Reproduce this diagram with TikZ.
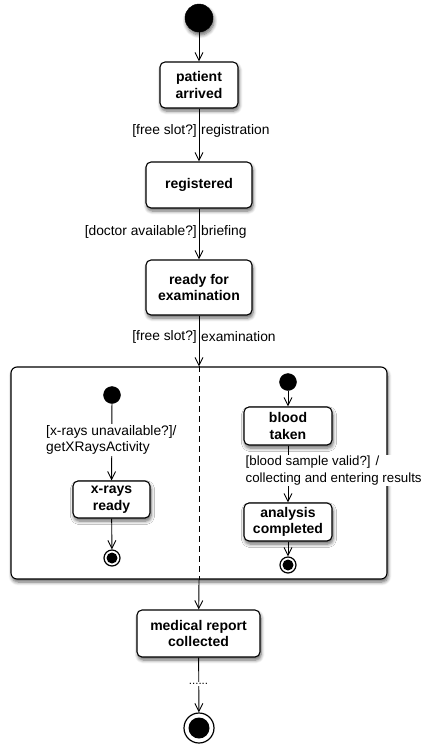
\documentclass[tikz,border=0pt]{standalone}
\usepackage{fontspec}
\setmainfont{Liberation Sans}
\usetikzlibrary{arrows.meta,shadows.blur}
\begin{document}
\begin{tikzpicture}[x=1pt,y=-1pt,
  shad/.style={blur shadow={shadow xshift=1pt, shadow yshift=-3pt, shadow blur radius=3.5pt, shadow blur steps=6, shadow opacity=60}},
  state/.style={draw, line width=1.1pt, rounded corners=5pt, fill=white, shad,
    font=\fontsize{14}{16.5}\selectfont\bfseries, align=center, inner sep=0pt},
  comp/.style={draw, line width=1.1pt, rounded corners=6pt, fill=white, shad, inner sep=0pt},
  init/.style={circle, fill=black, draw=black, inner sep=0pt},
  fin/.style={circle, draw=black, line width=1.2pt, fill=white, inner sep=0pt},
  lbl/.style={font=\fontsize{13.8}{16.5}\selectfont, inner sep=1pt},
  flow/.style={line width=0.9pt, -{Straight Barb[length=8pt,width=8pt,line width=0.9pt]}},
  plain/.style={line width=0.9pt}
]
\useasboundingbox (0,0) rectangle (425,748);

% main column
\node[init, shad, minimum size=28pt] (start) at (199,18) {};
\node[state, minimum width=78pt, minimum height=46pt] (pa) at (199,85) {patient\\arrived};
\node[state, minimum width=106pt, minimum height=46pt] (reg) at (199,185) {registered};
\node[state, minimum width=106pt, minimum height=55pt] (ready) at (199,287.5) {ready for\\examination};
\node[comp, minimum width=376pt, minimum height=212pt] (cmp) at (199,473) {};
\node[state, minimum width=123pt, minimum height=47pt] (mr) at (198.5,633.5) {medical report\\collected};
\node[fin, minimum size=30pt, path picture={\fill[black] (path picture bounding box.center) circle (10.5pt);}] (fend) at (199,728) {};

\draw[flow] (start) -- (pa);
\draw[flow] (pa) -- (reg);
\draw[flow] (reg) -- (ready);
\draw[flow] (ready) -- (cmp.north);
\draw[plain, dash pattern=on 6pt off 4pt] (cmp.north) -- (cmp.south);
\draw[flow] (cmp.south) -- (mr);
\draw[flow] (mr) -- (fend);

\node[lbl, anchor=east] (l1a) at (198,131) {[free slot?]};
\node[lbl, anchor=west] (l1b) at (200,131) {registration};
\node[lbl, anchor=east] (l2a) at (198,232) {[doctor available?]};
\node[lbl, anchor=west] (l2b) at (200,232) {briefing};
\node[lbl, anchor=east] (l3a) at (198,337) {[free slot?]};
\node[lbl, anchor=west] (l3b) at (200,337) {examination};
\node[fill=white, inner sep=1pt, font=\fontsize{11.5}{12}\selectfont] (dots) at (198.5,684) {......};

% left region
\node[init, minimum size=17pt] (lstart) at (112,395) {};
\node[state, minimum width=77pt, minimum height=37pt] (xr) at (111.5,499.5) {x-rays\\ready};
\node[fin, minimum size=16pt, path picture={\fill[black] (path picture bounding box.center) circle (5.5pt);}] (lend) at (112,558) {};
\draw[flow] (lstart) -- (xr);
\draw[flow] (xr) -- (lend);
\node[lbl, anchor=west, align=left, fill=white] (xl) at (45,440) {[x-rays unavailable?]/\\getXRaysActivity};

% right region
\node[init, minimum size=17pt] (rstart) at (288,382) {};
\node[state, minimum width=88pt, minimum height=38pt] (bt) at (288,426) {blood\\taken};
\node[state, minimum width=88pt, minimum height=38pt] (ac) at (288,522) {analysis\\completed};
\node[fin, minimum size=16pt, path picture={\fill[black] (path picture bounding box.center) circle (5.5pt);}] (rend) at (288,565) {};
\draw[flow] (rstart) -- (bt);
\draw[flow] (bt) -- (ac);
\draw[flow] (ac) -- (rend);
\node[lbl, font=\fontsize{13.3}{16.5}\selectfont, anchor=west, align=left, fill=white] (bl) at (244.5,470.5) {[blood sample valid?] /\\collecting and entering results};
\end{tikzpicture}
\end{document}
